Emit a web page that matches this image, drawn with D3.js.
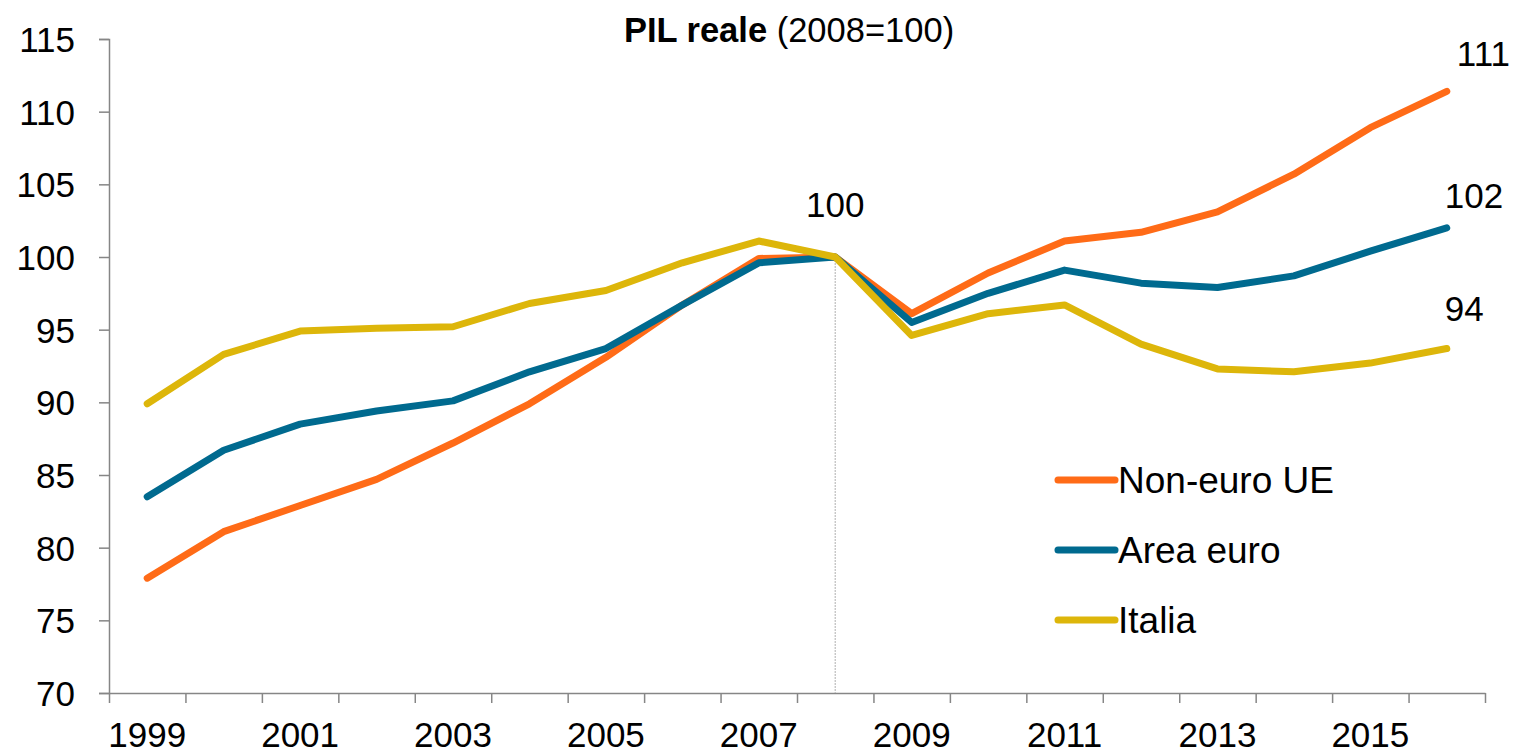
<!DOCTYPE html>
<html>
<head>
<meta charset="utf-8">
<script src="https://cdn.jsdelivr.net/npm/d3@7"></script>
<style>
  body { margin: 0; background: #fff; }
  svg { display: block; font-family: Arial, "Liberation Sans", sans-serif; }
  .axis path, .axis line { stroke: #868686; stroke-width: 1.5px; }
  .axis text { fill: #000; font-size: 35px; font-family: Arial, "Liberation Sans", sans-serif; }
</style>
</head>
<body>
<script>
var years = [1999, 2000, 2001, 2002, 2003, 2004, 2005, 2006, 2007, 2008,
             2009, 2010, 2011, 2012, 2013, 2014, 2015, 2016];
var nonEuro = [77.9, 81.1, 82.9, 84.7, 87.2, 89.9, 93.1, 96.7, 99.9, 100,
               96.1, 98.9, 101.1, 101.7, 103.1, 105.7, 108.9, 111.4];
var areaEuro = [83.5, 86.7, 88.5, 89.4, 90.1, 92.1, 93.7, 96.7, 99.6, 100,
                95.5, 97.5, 99.1, 98.2, 97.9, 98.7, 100.4, 102.0];
var italia = [89.9, 93.3, 94.9, 95.1, 95.2, 96.8, 97.7, 99.6, 101.1, 100,
              94.6, 96.1, 96.7, 94.0, 92.3, 92.1, 92.7, 93.7];
var seriesNames = ["Non-euro UE", "Area euro", "Italia"];
var endLabels = ["111", "102", "94"];
var yTicks = [70, 75, 80, 85, 90, 95, 100, 105, 110, 115];
var xLabels = [1999, 2001, 2003, 2005, 2007, 2009, 2011, 2013, 2015];
var colors = ["#FF6B17", "#006A8F", "#DDB60A"];

var W = 1514, H = 753;
var margin = {top: 39, right: 29, bottom: 60, left: 109},
    width = W - margin.left - margin.right,
    height = H - margin.top - margin.bottom;

var svg = d3.select("body").append("svg")
    .attr("width", W)
    .attr("height", H)
    .append("g")
    .attr("transform", "translate(" + margin.left + "," + margin.top + ")");

var x = d3.scaleBand()
    .domain(years)
    .range([0, width])
    .padding(0);

var xEdges = d3.scaleLinear()
    .domain([years[0] - 0.5, years[years.length - 1] + 0.5])
    .range([0, width]);

var y = d3.scaleLinear()
    .domain([70, 115])
    .range([height, 0]);

function cx(yr) { return x(yr) + x.bandwidth() / 2; }

// y axis
var yAxis = svg.append("g")
    .attr("class", "axis")
    .call(d3.axisLeft(y).tickValues(yTicks).tickSize(10).tickPadding(24).tickSizeOuter(10));
yAxis.selectAll("text").attr("dy", "0.36em");

// x axis tick marks sit on the category boundaries
var edgeValues = years.map(function(d) { return d - 0.5; }).concat([years[years.length - 1] + 0.5]);
svg.append("g")
    .attr("class", "axis")
    .attr("transform", "translate(0," + height + ")")
    .call(d3.axisBottom(xEdges).tickValues(edgeValues).tickSize(10).tickSizeOuter(0).tickFormat(""));

// x labels, every other year
svg.append("g")
    .attr("class", "axis")
    .attr("transform", "translate(0," + height + ")")
    .call(d3.axisBottom(x).tickValues(xLabels).tickSize(0).tickPadding(29))
    .call(function(g) { g.select(".domain").remove(); });

// dotted reference line at 2008
svg.append("line")
    .attr("x1", cx(2008))
    .attr("x2", cx(2008))
    .attr("y1", y(100))
    .attr("y2", height)
    .attr("stroke", "#bdbdbd")
    .attr("stroke-width", 1.2)
    .attr("stroke-dasharray", "2,1");

var allSeries = [nonEuro, areaEuro, italia];

var line = d3.line()
    .x(function(d, i) { return cx(years[i]); })
    .y(function(d) { return y(d); });

allSeries.forEach(function(s, i) {
    svg.append("path")
        .datum(s)
        .attr("fill", "none")
        .attr("stroke", colors[i])
        .attr("stroke-width", 7)
        .attr("stroke-linejoin", "round")
        .attr("stroke-linecap", "round")
        .attr("d", line);
});

// data labels
svg.append("text")
    .attr("x", cx(2008))
    .attr("y", y(100) - 40)
    .attr("text-anchor", "middle")
    .style("font-size", "35px")
    .text("100");

var labelOffsets = [{dx: 10, dy: -25}, {dx: -2, dy: -20}, {dx: -2, dy: -28}];
allSeries.forEach(function(s, i) {
    svg.append("text")
        .attr("x", cx(2016) + labelOffsets[i].dx)
        .attr("y", y(s[s.length - 1]) + labelOffsets[i].dy)
        .style("font-size", "35px")
        .text(endLabels[i]);
});

// title
var title = svg.append("text")
    .attr("x", 789 - margin.left)
    .attr("y", 42 - margin.top)
    .attr("text-anchor", "middle")
    .style("font-size", "34.5px");
title.append("tspan").style("font-weight", "bold").text("PIL reale");
title.append("tspan").text(" (2008=100)");

// legend
var legend = svg.selectAll(".legend")
    .data(seriesNames)
    .enter()
    .append("g")
    .attr("class", "legend")
    .attr("transform", function(d, i) {
        return "translate(" + (1058 - margin.left) + "," + (480 - margin.top + i * 70) + ")";
    });

legend.append("line")
    .attr("x1", 0)
    .attr("x2", 57)
    .attr("stroke", function(d, i) { return colors[i]; })
    .attr("stroke-width", 7)
    .attr("stroke-linecap", "round");

legend.append("text")
    .attr("x", 60)
    .attr("dy", "0.36em")
    .style("font-size", "37px")
    .text(function(d) { return d; });
</script>
</body>
</html>
